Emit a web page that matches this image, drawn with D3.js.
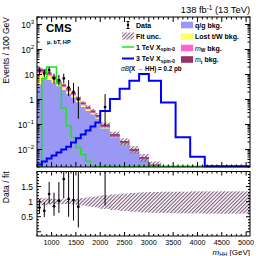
<!DOCTYPE html>
<html><head><meta charset="utf-8">
<script src="https://cdn.jsdelivr.net/npm/d3@7"></script>
<style>html,body{margin:0;padding:0;background:#fff}svg{display:block;font-family:"Liberation Sans",Arial,Helvetica,sans-serif}</style>
</head><body><svg id="c" width="266" height="256"></svg>
<script>
// ---- data (events / 100 GeV) ----
const binEdges = [700,800,900,1000,1100,1200,1300,1400,1500,1600,1700,1800,1900,2000,2200,2400,2600,2800,3000,3250,3550,3850,4150,4500,5080];
const qgBkg   = [4.0,7.0,6.0,4.6,3.4,2.4,1.7,1.2,0.78,0.5,0.35,0.25,0.17,0.07,0.03,0.016,0.0077,0.0037,0.0019,0.0009,0.0004,0.0002,0.0001,0.00005];
const lostBkg = [7.5,4.5,3.0,1.8,1.1,0.7,0.42,0.27,0.15,0.09,0.055,0.035,0.02,0.006,0.002,0.001,0.0005,0.0002,0.0001,0.00005,0.00002,0.00001,0.00001,0.00001];
const mWBkg   = [2.4,1.8,1.2,0.7,0.5,0.35,0.25,0.17,0.11,0.07,0.045,0.03,0.02,0.008,0.0035,0.0018,0.0008,0.0004,0.0002,0.0001,0.00005,0.00002,0.00001,0.00001];
const mtBkg   = [3.5,2.5,1.8,1.2,0.8,0.55,0.38,0.26,0.16,0.10,0.07,0.045,0.03,0.016,0.0065,0.0032,0.0015,0.0007,0.0003,0.00015,0.00007,0.00003,0.00001,0.00001];
const uncUp   = [0.12,0.11,0.10,0.09,0.08,0.08,0.08,0.09,0.10,0.12,0.14,0.16,0.18,0.21,0.24,0.27,0.29,0.31,0.32,0.33,0.33,0.34,0.34,0.34];
const uncDn   = [0.12,0.11,0.10,0.09,0.08,0.08,0.08,0.09,0.11,0.13,0.16,0.18,0.20,0.24,0.28,0.31,0.34,0.36,0.37,0.38,0.39,0.39,0.40,0.40];
const sig1TeV = [0.0018,7.0,20,20,4.5,0.45,0.09,0.03,0.012,0.0063,0.0034,0.0022,0.001,0.001,0.001,0.001,0.001,0.001,0.001,0.001,0.001,0.001,0.001,0.001];
const sig3TeV = [0.0025,0.0033,0.0044,0.0058,0.0076,0.010,0.013,0.019,0.028,0.040,0.058,0.083,0.12,0.35,1.05,2.7,5.7,10.5,5.7,0.76,0.031,0.0052,0.001,0.001];
const dataVals = [14,11,15,7,6,7,3,2,1,null,null,null,null,0.5,null,null,null,null,null,null,null,null,null,null];
const dataLo   = [10.3,7.7,11.2,4.42,3.62,4.42,1.37,0.71,0.17,null,null,null,null,0.087,null,null,null,null,null,null,null,null,null,null];
const dataHi   = [18.8,15.4,19.9,10.77,9.58,10.77,5.92,4.64,3.30,null,null,null,null,1.65,null,null,null,null,null,null,null,null,null,null];
const xTickLabels = [1000,1500,2000,2500,3000,3500,4000,4500,5000];
const yTickExps = [-2,-1,0,1,2,3];
const ratioTickLabels = [0.5,1,1.5];

// ---- layout ----
const L=37,R=250,T0=17,T1=167,B0=171.5,B1=236;
const svg=d3.select("#c");
svg.append("rect").attr("width",266).attr("height",256).attr("fill","#fff");
const x=d3.scaleLinear().domain([700,5080]).range([L,R]);
const y=d3.scaleLog().domain([0.002,2000]).range([T1,T0]);
const yr=d3.scaleLinear().domain([-0.14,2.0]).range([B1,B0]);

const defs=svg.append("defs");
const pat=defs.append("pattern").attr("id","hatch").attr("width",2.6).attr("height",2.6)
  .attr("patternUnits","userSpaceOnUse").attr("patternTransform","rotate(45)");
pat.append("rect").attr("width",1.1).attr("height",2.6).attr("fill","#7b5a7b");
defs.append("clipPath").attr("id","cT").append("rect").attr("x",L).attr("y",T0).attr("width",R-L).attr("height",T1-T0);
defs.append("clipPath").attr("id","cB").append("rect").attr("x",L).attr("y",B0).attr("width",R-L).attr("height",B1-B0);

const nb=binEdges.length-1;
const cy=v=>Math.min(T1+3, y(Math.max(v,1e-4)));
function stepArea(vals){
  let p=`M${x(binEdges[0])},${T1+3}`;
  for(let i=0;i<nb;i++){p+=`L${x(binEdges[i])},${cy(vals[i])}L${x(binEdges[i+1])},${cy(vals[i])}`;}
  return p+`L${x(binEdges[nb])},${T1+3}Z`;
}
function stepLine(vals){
  const cl=v=>Math.min(T1-0.8,y(Math.max(v,0.002)));
  let p=`M${x(binEdges[0])},${cl(vals[0])}`;
  for(let i=0;i<nb;i++){ if(i>0)p+=`V${cl(vals[i])}`; p+=`H${x(binEdges[i+1])}`;}
  return p;
}
const c1=qgBkg, c2=c1.map((v,i)=>v+lostBkg[i]), c3=c2.map((v,i)=>v+mWBkg[i]), tot=c3.map((v,i)=>v+mtBkg[i]);

const gT=svg.append("g").attr("clip-path","url(#cT)");
gT.append("path").attr("d",stepArea(tot)).attr("fill","#993366");
gT.append("path").attr("d",stepArea(c3)).attr("fill","#ff66cc");
gT.append("path").attr("d",stepArea(c2)).attr("fill","#ffff66");
gT.append("path").attr("d",stepArea(c1)).attr("fill","#9999f5");
gT.selectAll("rect.unc").data(d3.range(nb)).join("rect").attr("class","unc")
  .attr("x",i=>x(binEdges[i])).attr("width",i=>x(binEdges[i+1])-x(binEdges[i]))
  .attr("y",i=>y(tot[i]*(1+uncUp[i]))).attr("height",i=>y(tot[i]*(1-uncDn[i]))-y(tot[i]*(1+uncUp[i])))
  .attr("fill","url(#hatch)");
svg.append("path").attr("d",stepLine(sig1TeV)).attr("fill","none").attr("stroke","#22e022").attr("stroke-width",1.5);
svg.append("path").attr("d",stepLine(sig3TeV)).attr("fill","none").attr("stroke","#0000ff").attr("stroke-width",2);

// data top
const di=d3.range(nb).filter(i=>dataVals[i]!==null);
const cen=i=>x((binEdges[i]+binEdges[i+1])/2);
const gD=svg.append("g");
gD.selectAll("line").data(di).join("line").attr("x1",cen).attr("x2",cen)
  .attr("y1",i=>y(dataHi[i])).attr("y2",i=>y(dataLo[i])).attr("stroke","#000").attr("stroke-width",1);
gD.selectAll("circle").data(di).join("circle").attr("cx",cen).attr("cy",i=>y(dataVals[i])).attr("r",1.4).attr("fill","#000");

// ratio panel
const gB=svg.append("g").attr("clip-path","url(#cB)");
gB.selectAll("rect").data(d3.range(nb)).join("rect")
  .attr("x",i=>x(binEdges[i])).attr("width",i=>x(binEdges[i+1])-x(binEdges[i])+0.3)
  .attr("y",i=>yr(1+uncUp[i])).attr("height",i=>yr(1-uncDn[i])-yr(1+uncUp[i])).attr("fill","url(#hatch)");
gB.selectAll("line").data(di).join("line").attr("x1",cen).attr("x2",cen)
  .attr("y1",i=>yr(dataHi[i]/tot[i])).attr("y2",i=>yr(dataLo[i]/tot[i])).attr("stroke","#000").attr("stroke-width",1);
gB.selectAll("circle").data(di).join("circle").attr("cx",cen).attr("cy",i=>yr(dataVals[i]/tot[i])).attr("r",1.4).attr("fill","#000");

// frames & ticks
const ax=svg.append("g").attr("stroke","#000").attr("stroke-width",1).attr("fill","none");
ax.append("rect").attr("x",L).attr("y",T0).attr("width",R-L).attr("height",T1-T0);
ax.append("rect").attr("x",L).attr("y",B0).attr("width",R-L).attr("height",B1-B0);
const xt=d3.range(700,5051,100);
function xTicks(top,bot,maj,min){
  xt.forEach(v=>{const l=v%500===0?maj:min, X=x(v);
    ax.append("line").attr("x1",X).attr("x2",X).attr("y1",bot).attr("y2",bot-l);
    ax.append("line").attr("x1",X).attr("x2",X).attr("y1",top).attr("y2",top+l);});
}
xTicks(T0,T1,5,2.5); xTicks(B0,B1,4,2);
for(let e=-3;e<=3;e++){for(let m=1;m<10;m++){const v=m*Math.pow(10,e); if(v<0.002||v>2000)continue;
  const l=m===1?5:2.5, Y=y(v);
  ax.append("line").attr("x1",L).attr("x2",L+l).attr("y1",Y).attr("y2",Y);
  ax.append("line").attr("x1",R).attr("x2",R-l).attr("y1",Y).attr("y2",Y);}}
d3.range(0,20.01,1).map(k=>k/10).forEach(v=>{const l=(Math.round(v*10)%5===0)?4:2, Y=yr(v);
  ax.append("line").attr("x1",L).attr("x2",L+l).attr("y1",Y).attr("y2",Y);
  ax.append("line").attr("x1",R).attr("x2",R-l).attr("y1",Y).attr("y2",Y);});

// tick labels
const tx=svg.append("g").attr("fill","#000");
xTickLabels.forEach(v=>tx.append("text").attr("x",x(v)).attr("y",245).attr("text-anchor","middle").attr("font-size",7.2).text(v));
yTickExps.forEach(e=>{const t=tx.append("text").attr("x",34).attr("y",y(Math.pow(10,e))+3).attr("text-anchor","end").attr("font-size",8.5);
  if(e===0)t.text("1"); else if(e===1)t.text("10"); else {t.append("tspan").text("10");
    t.append("tspan").attr("dy",-3.5).attr("font-size",6).text(e<0?"\u2212"+(-e):String(e));}});
ratioTickLabels.forEach(v=>tx.append("text").attr("x",33).attr("y",yr(v)+3).attr("text-anchor","end").attr("font-size",8.5).text(v));

// axis titles
tx.append("text").attr("transform","translate(8.5,17) rotate(-90)").attr("text-anchor","end").attr("font-size",8.5).text("Events / 100 GeV");
tx.append("text").attr("transform","translate(8.5,171.5) rotate(-90)").attr("text-anchor","end").attr("font-size",8.5).text("Data / fit");
const xtt=tx.append("text").attr("x",250).attr("y",254.5).attr("text-anchor","end").attr("font-size",8);
xtt.append("tspan").attr("font-style","italic").text("m");
xtt.append("tspan").attr("dy",1.6).attr("font-size",5.6).text("HH");
xtt.append("tspan").attr("dy",-1.6).text(" [GeV]");

// header
tx.append("text").attr("x",250).attr("y",13).attr("text-anchor","end").attr("font-size",9.3).call(t=>{
  t.append("tspan").text("138 fb");t.append("tspan").attr("dy",-3.5).attr("font-size",6.5).text("-1");
  t.append("tspan").attr("dy",3.5).text(" (13 TeV)");});
tx.append("text").attr("x",46).attr("y",32).attr("font-size",11.5).attr("font-weight","bold").text("CMS");
tx.append("text").attr("x",47).attr("y",44).attr("font-size",5.6).attr("font-weight","bold").text("\u03bc, bT, HP");

// legend
const lg=svg.append("g");
const fs=7;
lg.append("line").attr("x1",128).attr("x2",128).attr("y1",21.5).attr("y2",28.5).attr("stroke","#000");
lg.append("line").attr("x1",126.5).attr("x2",129.5).attr("y1",21.5).attr("y2",21.5).attr("stroke","#000");
lg.append("line").attr("x1",126.5).attr("x2",129.5).attr("y1",28.5).attr("y2",28.5).attr("stroke","#000");
lg.append("circle").attr("cx",128).attr("cy",25).attr("r",1.2);
lg.append("rect").attr("x",122).attr("y",32.5).attr("width",12).attr("height",7).attr("fill","url(#hatch)");
lg.append("line").attr("x1",122).attr("x2",134).attr("y1",47).attr("y2",47).attr("stroke","#22e022").attr("stroke-width",1.5);
lg.append("line").attr("x1",122).attr("x2",134).attr("y1",58.5).attr("y2",58.5).attr("stroke","#0000ff").attr("stroke-width",2);
const lt=(xx,yy)=>lg.append("text").attr("x",xx).attr("y",yy).attr("font-size",fs).attr("font-weight","bold");
lt(136,27.5).text("Data");
lt(136,38.5).text("Fit unc.");
lt(136,49.5).call(t=>{t.append("tspan").text("1 TeV X");t.append("tspan").attr("dy",1.8).attr("font-size",4.8).text("spin-0");});
lt(136,61).call(t=>{t.append("tspan").text("3 TeV X");t.append("tspan").attr("dy",1.8).attr("font-size",4.8).text("spin-0");});
lg.append("text").attr("x",121).attr("y",71).attr("font-size",6.3).attr("font-weight","bold").call(t=>{
  t.append("tspan").attr("font-style","italic").attr("font-weight","normal").text("\u03c3B");
  t.append("tspan").text("(X \u2192 HH) = 0.2 pb");});
const boxes=[["#9999f5","q/g bkg."],["#ffff66","Lost t/W bkg."],["#ff66cc",null],["#993366",null]];
const rowsY=[25,36.5,48,59.5];
boxes.forEach((b,k)=>lg.append("rect").attr("x",181).attr("y",rowsY[k]-3.3).attr("width",12).attr("height",6.6).attr("fill",b[0]));
lt(195,rowsY[0]+2.5).text("q/g bkg.");
lt(195,rowsY[1]+2.5).text("Lost t/W bkg.");
lt(195,rowsY[2]+2.5).call(t=>{t.append("tspan").attr("font-style","italic").attr("font-weight","normal").text("m");
  t.append("tspan").attr("dy",1.8).attr("font-size",4.8).text("W");t.append("tspan").attr("dy",-1.8).text(" bkg.");});
lt(195,rowsY[3]+2.5).call(t=>{t.append("tspan").attr("font-style","italic").attr("font-weight","normal").text("m");
  t.append("tspan").attr("dy",1.8).attr("font-size",4.8).text("t");t.append("tspan").attr("dy",-1.8).text(" bkg.");});
</script></body></html>
